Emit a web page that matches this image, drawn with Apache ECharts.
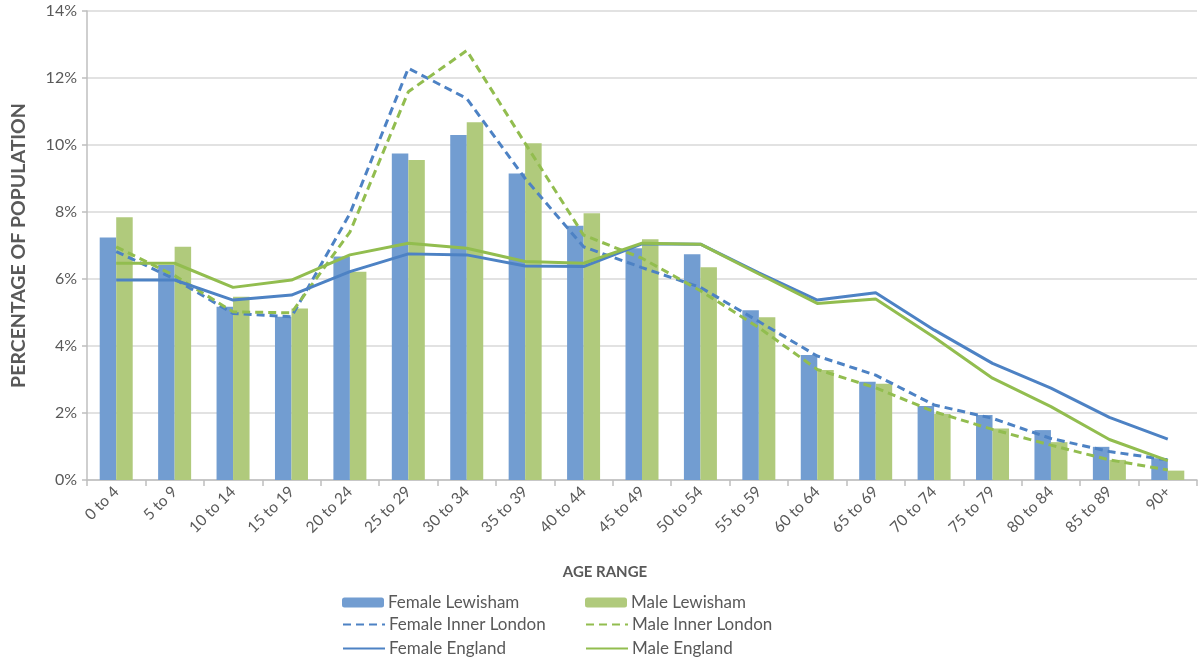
<!DOCTYPE html>
<html>
<head>
<meta charset="utf-8">
<script src="https://cdn.jsdelivr.net/npm/echarts@6/dist/echarts.min.js"></script>
<style>
html,body{margin:0;padding:0;background:#fff;}
#chart{width:1200px;height:662px;}
</style>
</head>
<body>
<div id="chart"></div>
<script>
const categories = ["0 to 4","5 to 9","10 to 14","15 to 19","20 to 24","25 to 29","30 to 34","35 to 39","40 to 44","45 to 49","50 to 54","55 to 59","60 to 64","65 to 69","70 to 74","75 to 79","80 to 84","85 to 89","90+"];
const femaleLewisham = [7.24,6.42,5.17,4.87,6.67,9.75,10.30,9.15,7.59,6.92,6.74,5.07,3.73,2.93,2.21,1.94,1.49,0.99,0.65];
const maleLewisham   = [7.84,6.96,5.47,5.12,6.22,9.55,10.68,10.05,7.96,7.19,6.35,4.86,3.28,2.87,1.97,1.54,1.13,0.60,0.28];
const femaleInnerLondon = [6.82,6.00,4.97,4.87,7.95,12.29,11.39,9.00,6.96,6.34,5.75,4.73,3.70,3.13,2.24,1.84,1.24,0.85,0.60];
const maleInnerLondon   = [6.96,6.10,5.02,4.99,7.40,11.59,12.82,10.05,7.31,6.62,5.65,4.55,3.30,2.75,2.04,1.51,1.04,0.60,0.30];
const femaleEngland = [5.97,5.97,5.37,5.52,6.22,6.75,6.72,6.39,6.37,7.05,7.04,6.18,5.37,5.59,4.48,3.48,2.74,1.87,1.22];
const maleEngland   = [6.47,6.47,5.75,5.97,6.72,7.07,6.92,6.52,6.47,7.07,7.04,6.15,5.27,5.40,4.26,3.04,2.19,1.21,0.58];
const yTicks = [0,2,4,6,8,10,12,14];

const BAR_BLUE = '#729dd1', BAR_GREEN = '#b0ca7c';
const LINE_BLUE = '#4d82c4', LINE_GREEN = '#92bd4f';
const FONT = 'Lato, "Open Sans", sans-serif';
const TXT = '#595959';

const chart = echarts.init(document.getElementById('chart'));
const lineSeries = (name, data, color, dashed) => ({
  name, type: 'line', data, symbol: 'none', z: 5,
  lineStyle: { color, width: 3, type: dashed ? [8, 5] : 'solid' },
  itemStyle: { color }
});
const legendItem = (name, left, top, isLine) => ({
  left, top, itemWidth: 42, itemHeight: 10, itemGap: 0, selectedMode: false,
  textStyle: { fontFamily: FONT, fontSize: 17, color: TXT, padding: [0, 0, 0, -1] },
  data: [isLine ? { name, itemStyle: { opacity: 0 } } : { name }]
});
chart.setOption({
  animation: false,
  textStyle: { fontFamily: FONT },
  grid: { left: 87, right: 3, top: 11, bottom: 182 },
  title: {
    text: 'AGE RANGE', left: 600, top: 560, textAlign: 'center',
    textStyle: { fontFamily: FONT, fontSize: 15, fontWeight: 'bold', color: TXT }
  },
  legend: [
    legendItem('Female Lewisham', 337, 589, false),
    legendItem('Female Inner London', 337, 611, true),
    legendItem('Female England', 337, 635, true),
    legendItem('Male Lewisham', 580, 589, false),
    legendItem('Male Inner London', 580, 611, true),
    legendItem('Male England', 580, 635, true)
  ],
  xAxis: {
    type: 'category', data: categories, boundaryGap: true,
    axisLine: { lineStyle: { color: '#bfbfbf', width: 1.5 } },
    axisTick: { show: true, length: 6, lineStyle: { color: '#bfbfbf', width: 1.5 } },
    axisLabel: { rotate: 45, fontSize: 15.5, color: TXT, margin: 9, interval: 0, fontFamily: FONT }
  },
  yAxis: {
    type: 'value', min: 0, max: 14, interval: 2,
    name: 'PERCENTAGE OF POPULATION', nameLocation: 'middle', nameGap: 58, nameRotate: 90,
    nameTextStyle: { fontSize: 19.5, fontWeight: 'bold', color: TXT, fontFamily: FONT },
    axisLine: { show: true, lineStyle: { color: '#bfbfbf', width: 1.5 } },
    axisTick: { show: true, length: 5, lineStyle: { color: '#bfbfbf', width: 1.5 } },
    splitLine: { lineStyle: { color: '#d9d9d9', width: 1.5 } },
    axisLabel: { fontSize: 16, color: TXT, margin: 10, fontFamily: FONT,
      formatter: v => yTicks.includes(v) ? v + '%' : '' }
  },
  series: [
    { name: 'Female Lewisham', type: 'bar', data: femaleLewisham, barWidth: 16.5, barGap: '0%', itemStyle: { color: BAR_BLUE } },
    { name: 'Male Lewisham', type: 'bar', data: maleLewisham, barWidth: 16.5, barGap: '0%', itemStyle: { color: BAR_GREEN } },
    lineSeries('Female Inner London', femaleInnerLondon, LINE_BLUE, true),
    lineSeries('Male Inner London', maleInnerLondon, LINE_GREEN, true),
    lineSeries('Female England', femaleEngland, LINE_BLUE, false),
    lineSeries('Male England', maleEngland, LINE_GREEN, false)
  ]
});
</script>
</body>
</html>
